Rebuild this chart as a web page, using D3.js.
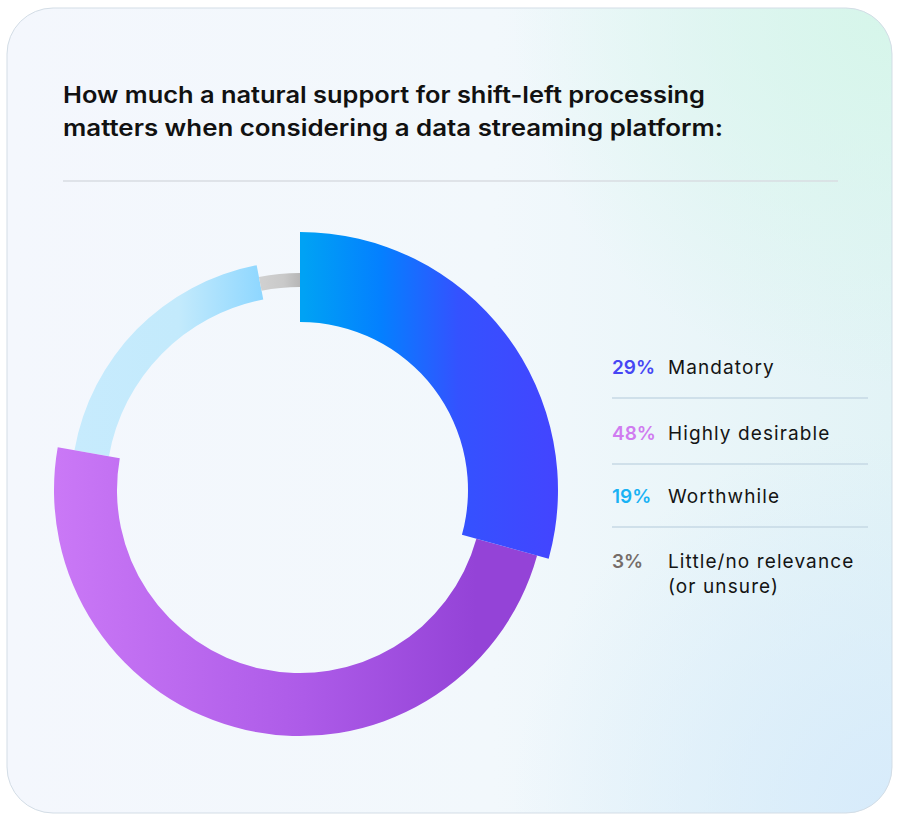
<!DOCTYPE html>
<html>
<head>
<meta charset="utf-8">
<script src="https://cdn.jsdelivr.net/npm/d3@7"></script>
<style>
  html, body { margin: 0; padding: 0; background: #ffffff; }
  svg { display: block; }
  text { font-family: "Inter", "Noto Sans", sans-serif; }
</style>
</head>
<body>
<div id="chart"></div>
<script>
const categories = ["Mandatory", "Highly desirable", "Worthwhile", "Little/no relevance (or unsure)"];
const values = [29, 48, 19, 3];
const valueLabels = ["29%", "48%", "19%", "3%"];
const labelLines = [["Mandatory"], ["Highly desirable"], ["Worthwhile"], ["Little/no relevance", "(or unsure)"]];
const titleLines = [
    "How much a natural support for shift-left processing",
    "matters when considering a data streaming platform:"
];

var width = 900,
    height = 823,
    cx = 300,
    cy = 490;

// each slice has its own ring thickness
var ringStyle = [
    { inner: 168, outer: 258, grad: "gBlue", pct: "#4646f4" },
    { inner: 183, outer: 246, grad: "gPurple", pct: "#d07bf0" },
    { inner: 194, outer: 229, grad: "gLight", pct: "#18b2f4" },
    { inner: 203, outer: 217, grad: "gGray", pct: "#756c68" }
];

var svg = d3.select('#chart').append('svg')
    .attr('width', width)
    .attr('height', height);

var defs = svg.append('defs');

// x given in page coords; ox shifts them into the element's own space
function linGrad(id, x1, x2, stops, ox) {
    ox = ox || 0;
    var g = defs.append('linearGradient')
        .attr('id', id)
        .attr('gradientUnits', 'userSpaceOnUse')
        .attr('x1', x1 - ox).attr('y1', 0)
        .attr('x2', x2 - ox).attr('y2', 0);
    stops.forEach(s => g.append('stop').attr('offset', s[0]).attr('stop-color', s[1]));
}

linGrad('gBlue', 303, 562, [[0, '#00a2f4'], [0.3, '#0480ff'], [0.6, '#3452ff'], [1, '#4444ff']], cx);
linGrad('gPurple', 57, 550, [[0, '#ca78f6'], [0.5, '#ad5be8'], [0.85, '#9443d7'], [1, '#9443d7']], cx);
linGrad('gLight', 72, 266, [[0, '#c7ebfd'], [0.55, '#c3eafc'], [1, '#8cd6ff']], cx);
linGrad('gGray', 255, 303, [[0, '#d2d2d2'], [0.6, '#c9c9c9'], [1, '#b3b3b3']], cx);
linGrad('gCard', 7, 892, [[0, '#f4f7fd'], [0.55, '#f2f8fc'], [1, '#e2f3f6']]);

function radGrad(id, x, y, r, color) {
    var g = defs.append('radialGradient').attr('id', id)
        .attr('gradientUnits', 'userSpaceOnUse')
        .attr('cx', x).attr('cy', y).attr('r', r);
    g.append('stop').attr('offset', 0).attr('stop-color', color).attr('stop-opacity', 1);
    g.append('stop').attr('offset', 1).attr('stop-color', color).attr('stop-opacity', 0);
}
radGrad('gMint', 892, 8, 380, '#d6f6ea');
radGrad('gSky', 892, 813, 380, '#d7ebfb');

// card
['url(#gCard)', 'url(#gMint)', 'url(#gSky)'].forEach((f, i) => {
    svg.append('rect')
        .attr('x', 7).attr('y', 8).attr('width', 885).attr('height', 805)
        .attr('rx', 46).attr('ry', 46)
        .attr('fill', f)
        .attr('stroke', i === 2 ? '#d3dde6' : 'none')
        .attr('stroke-width', 1);
});

// title
var titleWidths = [642, 660];
svg.append('g')
    .selectAll('text')
    .data(titleLines)
    .enter()
    .append('text')
    .attr('x', 63)
    .attr('y', (d, i) => 103 + i * 33)
    .attr('font-size', 22.5)
    .attr('font-weight', 600)
    .attr('fill', '#111111')
    .attr('textLength', (d, i) => titleWidths[i])
    .attr('lengthAdjust', 'spacingAndGlyphs')
    .text(d => d);

svg.append('line')
    .attr('x1', 63).attr('x2', 838)
    .attr('y1', 181).attr('y2', 181)
    .attr('stroke', '#d9dde2')
    .attr('stroke-width', 1.5);

// donut
var pie = d3.pie().sort(null).value(d => d);
var arcs = pie(values);
var drawOrder = [2, 3, 1, 0];

svg.append('g')
    .attr('transform', `translate(${cx},${cy})`)
    .selectAll('path')
    .data(drawOrder.map(i => ({ a: arcs[i], s: ringStyle[i] })))
    .enter()
    .append('path')
    .attr('d', d => d3.arc()
        .innerRadius(d.s.inner)
        .outerRadius(d.s.outer)(d.a))
    .attr('fill', d => `url(#${d.s.grad})`);

// legend
var rowY = [374, 440, 503, 568];
var legend = svg.append('g');

legend.selectAll('text.pct')
    .data(valueLabels)
    .enter()
    .append('text')
    .attr('class', 'pct')
    .attr('x', 612)
    .attr('y', (d, i) => rowY[i])
    .attr('font-size', 19)
    .attr('font-weight', 600)
    .attr('fill', (d, i) => ringStyle[i].pct)
    .text(d => d);

legend.selectAll('text.lab')
    .data(labelLines)
    .enter()
    .append('text')
    .attr('class', 'lab')
    .attr('x', 668)
    .attr('y', (d, i) => rowY[i])
    .attr('font-size', 19)
    .attr('letter-spacing', 1.1)
    .attr('fill', '#141414')
    .selectAll('tspan')
    .data(d => d)
    .enter()
    .append('tspan')
    .attr('x', 668)
    .attr('dy', (d, i) => i === 0 ? 0 : 25)
    .text(d => d);

legend.selectAll('line')
    .data(values.slice(0, 3))
    .enter()
    .append('line')
    .attr('x1', 612).attr('x2', 868)
    .attr('y1', (d, i) => rowY[i] + 24)
    .attr('y2', (d, i) => rowY[i] + 24)
    .attr('stroke', '#c6d9e4')
    .attr('stroke-width', 1.5);
</script>
</body>
</html>
